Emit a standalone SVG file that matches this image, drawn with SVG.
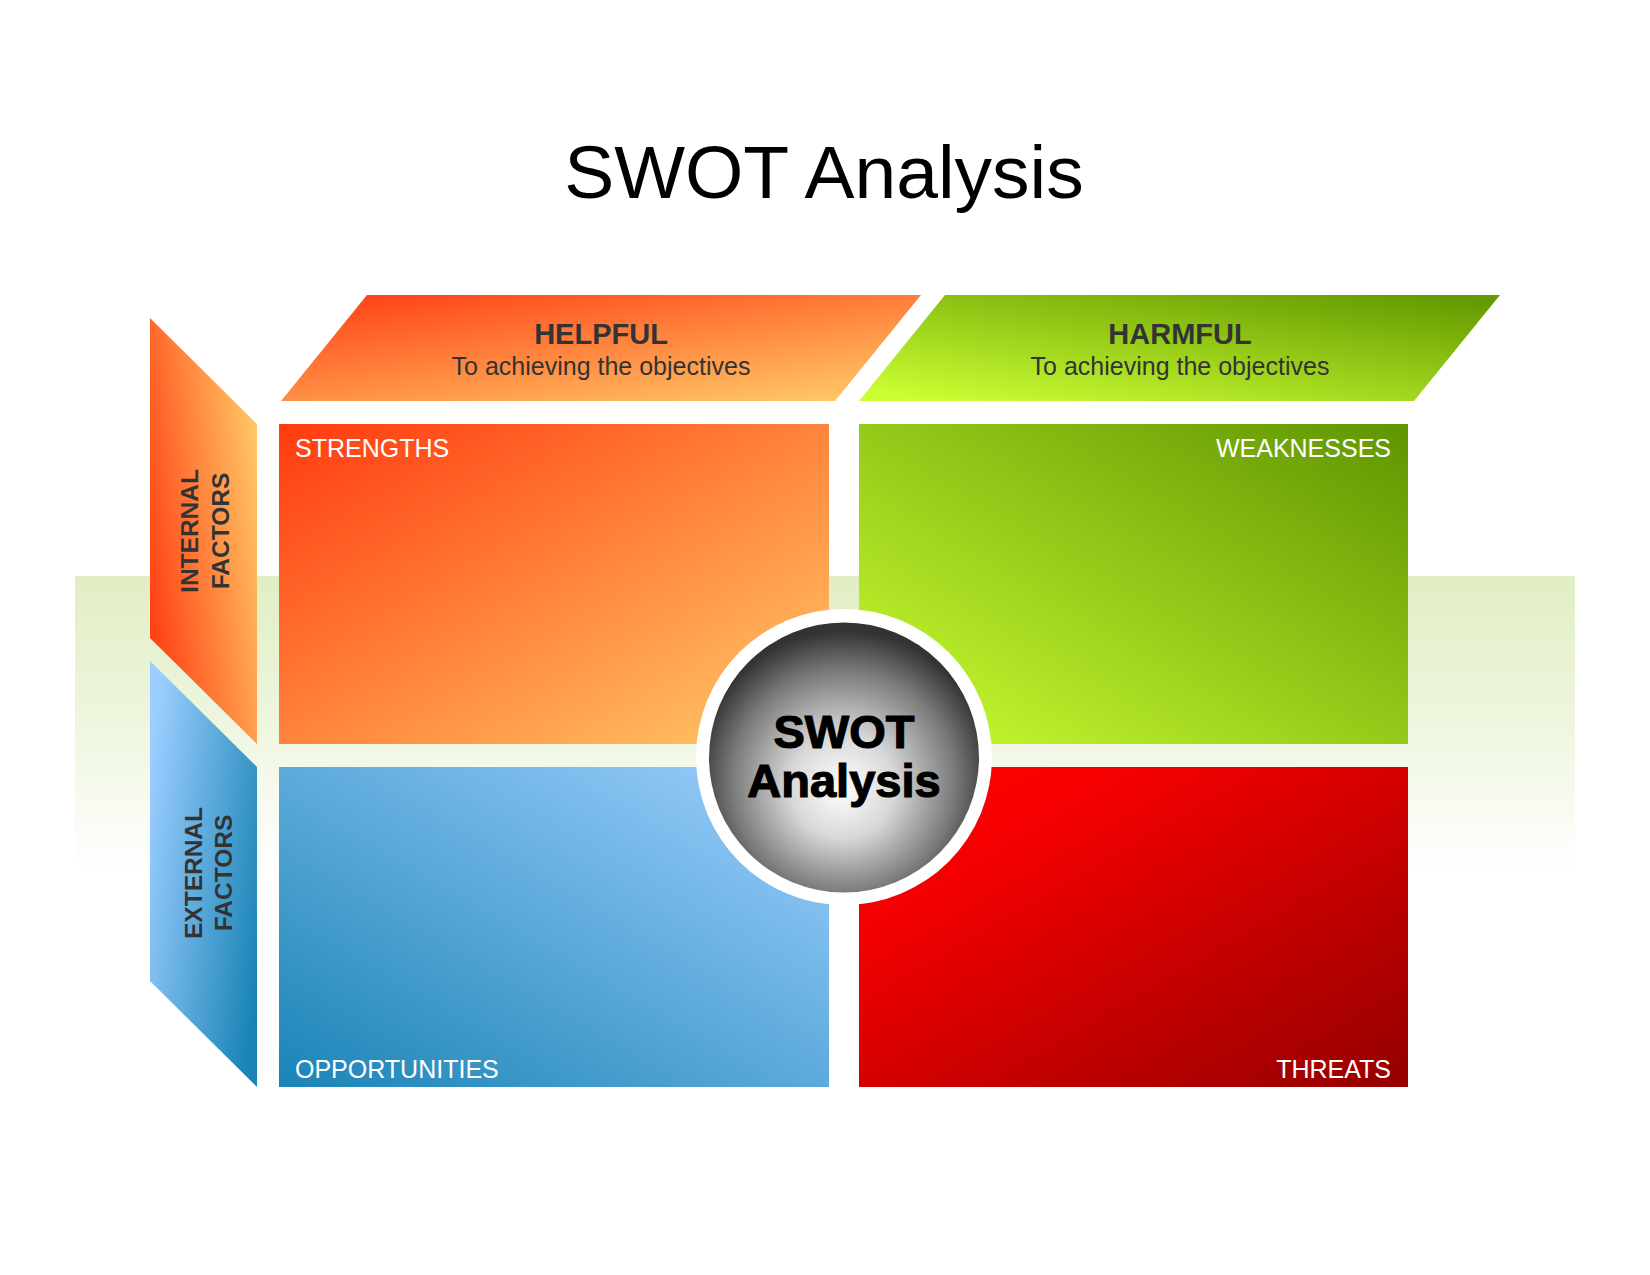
<svg xmlns="http://www.w3.org/2000/svg" width="1650" height="1275" viewBox="0 0 1650 1275">
<defs>
<linearGradient id="gBand" x1="0" y1="0" x2="0" y2="1">
<stop offset="0" stop-color="#e1eec3"/>
<stop offset="0.5" stop-color="#eef6df"/>
<stop offset="1" stop-color="#ffffff"/>
</linearGradient>
<linearGradient id="gOrangeTL" x1="0" y1="0" x2="1" y2="1">
<stop offset="0" stop-color="#ff3a0f"/>
<stop offset="1" stop-color="#ffcd6a"/>
</linearGradient>
<linearGradient id="gOrangeHdr" x1="0.1" y1="0" x2="0.9" y2="1">
<stop offset="0" stop-color="#ff4216"/>
<stop offset="1" stop-color="#ffca68"/>
</linearGradient>
<linearGradient id="gOrangeSide" x1="0" y1="0.75" x2="1" y2="0.25">
<stop offset="0" stop-color="#ff3e12"/>
<stop offset="1" stop-color="#ffc868"/>
</linearGradient>
<linearGradient id="gGreen" x1="0" y1="1" x2="1" y2="0">
<stop offset="0" stop-color="#ccff33"/>
<stop offset="1" stop-color="#5f9400"/>
</linearGradient>
<linearGradient id="gGreenHdr" x1="0.1" y1="1" x2="0.9" y2="0">
<stop offset="0" stop-color="#ccff33"/>
<stop offset="1" stop-color="#649a00"/>
</linearGradient>
<linearGradient id="gBlue" x1="0" y1="1" x2="1" y2="0">
<stop offset="0" stop-color="#1a84b6"/>
<stop offset="1" stop-color="#9fd0ff"/>
</linearGradient>
<linearGradient id="gBlueSide" x1="0" y1="0.25" x2="1" y2="0.75">
<stop offset="0" stop-color="#9bcdff"/>
<stop offset="1" stop-color="#1a84b6"/>
</linearGradient>
<linearGradient id="gRed" x1="0" y1="0" x2="1" y2="1">
<stop offset="0" stop-color="#ff0500"/>
<stop offset="0.25" stop-color="#f50000"/>
<stop offset="1" stop-color="#940000"/>
</linearGradient>
<radialGradient id="gBall" cx="0.5" cy="0.58" r="0.55" fx="0.49" fy="0.62">
<stop offset="0" stop-color="#ffffff"/>
<stop offset="0.35" stop-color="#d8d8d8"/>
<stop offset="0.75" stop-color="#7a7a7a"/>
<stop offset="1" stop-color="#333333"/>
</radialGradient>
</defs>
<style>
.title{font-family:"Liberation Sans",Arial,sans-serif;font-size:75px;fill:#000;}
.hdr{font-family:"Liberation Sans",Arial,sans-serif;font-size:29px;font-weight:bold;fill:#333;}
.sub{font-family:"Liberation Sans",Arial,sans-serif;font-size:25px;fill:#333;}
.side{font-family:"Liberation Sans",Arial,sans-serif;font-size:24.5px;font-weight:bold;fill:#333;}
.lbl{font-family:"Liberation Sans",Arial,sans-serif;font-size:25px;fill:#fff;}
.ball{font-family:"Liberation Sans",Arial,sans-serif;font-size:47px;font-weight:bold;fill:#000;stroke:#000;stroke-width:1.2;}
</style>
<rect id="band" x="75" y="576" width="1500" height="295" fill="url(#gBand)"/>
<text class="title" x="824" y="198" text-anchor="middle">SWOT Analysis</text>
<g id="helpful">
<polygon points="367,295 921,295 835,401 281,401" fill="url(#gOrangeHdr)"/>
<text class="hdr" x="601" y="344" text-anchor="middle">HELPFUL</text>
<text class="sub" x="601" y="375" text-anchor="middle">To achieving the objectives</text>
</g>
<g id="harmful">
<polygon points="945,295 1500,295 1414,401 859,401" fill="url(#gGreenHdr)"/>
<text class="hdr" x="1180" y="344" text-anchor="middle">HARMFUL</text>
<text class="sub" x="1180" y="375" text-anchor="middle">To achieving the objectives</text>
</g>
<g id="internal">
<polygon points="150,318 257,424 257,744 150,638" fill="url(#gOrangeSide)"/>
<text class="side" transform="translate(198,531) rotate(-90)" text-anchor="middle">INTERNAL</text>
<text class="side" transform="translate(229,531) rotate(-90)" text-anchor="middle">FACTORS</text>
</g>
<g id="external">
<polygon points="150,661 257,767 257,1087 150,981" fill="url(#gBlueSide)"/>
<text class="side" transform="translate(202,873) rotate(-90)" text-anchor="middle">EXTERNAL</text>
<text class="side" transform="translate(232,873) rotate(-90)" text-anchor="middle">FACTORS</text>
</g>
<g id="strengths">
<rect x="279" y="424" width="550" height="320" fill="url(#gOrangeTL)"/>
<text class="lbl" x="295" y="457">STRENGTHS</text>
</g>
<g id="weaknesses">
<rect x="859" y="424" width="549" height="320" fill="url(#gGreen)"/>
<text class="lbl" x="1391" y="457" text-anchor="end">WEAKNESSES</text>
</g>
<g id="opportunities">
<rect x="279" y="767" width="550" height="320" fill="url(#gBlue)"/>
<text class="lbl" x="295" y="1078">OPPORTUNITIES</text>
</g>
<g id="threats">
<rect x="859" y="767" width="549" height="320" fill="url(#gRed)"/>
<text class="lbl" x="1391" y="1078" text-anchor="end">THREATS</text>
</g>
<g id="center">
<circle cx="844" cy="757" r="148" fill="#ffffff"/>
<circle cx="844" cy="757.5" r="135" fill="url(#gBall)"/>
<text class="ball" x="844" y="748" text-anchor="middle">SWOT</text>
<text class="ball" x="844" y="797" text-anchor="middle">Analysis</text>
</g>
<g id="connectors"/>
</svg>
